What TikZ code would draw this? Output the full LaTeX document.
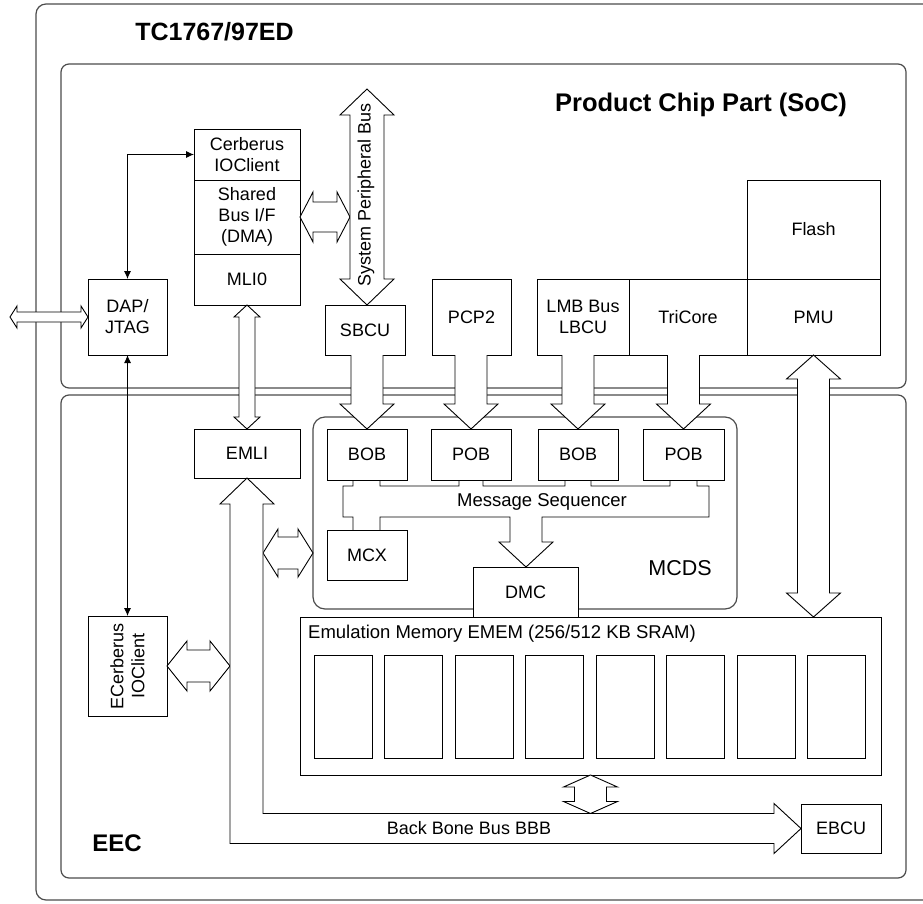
\documentclass[tikz,border=0pt]{standalone}
\usepackage{fontspec}
\setmainfont{Liberation Sans}
\usetikzlibrary{positioning,calc,arrows.meta}

\tikzset{
  blk/.style={draw, fill=white, line width=0.9pt, outer sep=0pt, inner sep=0pt, align=center, font=\fontsize{18}{21}\selectfont},
  frame/.style={draw=black!70, line width=1.2pt},
  bus/.style={draw, fill=white, line width=0.9pt},
  lbl/.style={inner sep=0pt, align=center, font=\fontsize{18}{21}\selectfont},
}

% hollow bus arrows: #1,#2 ends, #3 half shaft, #4 half head, #5 head length
\newcommand{\busv}[5]{\draw[bus] let \p1=(#1), \p2=(#2) in (\x1,\y1) -- (\x1+#4pt,\y1-#5pt) -- (\x1+#3pt,\y1-#5pt) -- (\x1+#3pt,\y2+#5pt) -- (\x1+#4pt,\y2+#5pt) -- (\x1,\y2) -- (\x1-#4pt,\y2+#5pt) -- (\x1-#3pt,\y2+#5pt) -- (\x1-#3pt,\y1-#5pt) -- (\x1-#4pt,\y1-#5pt) -- cycle;}
\newcommand{\bush}[5]{\draw[bus] let \p1=(#1), \p2=(#2) in (\x1,\y1) -- (\x1+#5pt,\y1+#4pt) -- (\x1+#5pt,\y1+#3pt) -- (\x2-#5pt,\y1+#3pt) -- (\x2-#5pt,\y1+#4pt) -- (\x2,\y1) -- (\x2-#5pt,\y1-#4pt) -- (\x2-#5pt,\y1-#3pt) -- (\x1+#5pt,\y1-#3pt) -- (\x1+#5pt,\y1-#4pt) -- cycle;}
\newcommand{\busdown}[5]{\draw[bus] let \p1=(#1), \p2=(#2) in (\x2-#3pt,\y1) -- (\x2-#3pt,\y2+#5pt) -- (\x2-#4pt,\y2+#5pt) -- (\x2,\y2) -- (\x2+#4pt,\y2+#5pt) -- (\x2+#3pt,\y2+#5pt) -- (\x2+#3pt,\y1);}

\begin{document}
\begin{tikzpicture}[x=1pt, y=-1pt, >={Latex[length=8pt,width=7pt]}]
\useasboundingbox (0,0) rectangle (923,904);
\clip (0,0) rectangle (923,904);
\draw[frame, rounded corners=10pt] (36,4) rectangle (960,900);
\draw[frame, rounded corners=8pt] (61,64) rectangle (906,388);
\draw[frame, rounded corners=8pt] (61,395) rectangle (906,878);
\node[name=title, font=\fontsize{25}{30}\selectfont\bfseries] at (214.5,32) {TC1767/97ED};
\node[name=soc_lbl, font=\fontsize{25.5}{30}\selectfont\bfseries] at (701,105) {Product Chip Part (SoC)};
\node[name=eec_lbl, font=\fontsize{24}{28}\selectfont\bfseries] at (117,843) {EEC};

\node[blk, name=cerb_io, minimum width=106pt, minimum height=51pt] at (247,154.5) {Cerberus\\IOClient};
\node[blk, name=cerb_bus, below=0pt of cerb_io, minimum width=106pt, minimum height=74pt] {Shared\\Bus I/F\\(DMA)};
\node[blk, name=cerb_mli, below=0pt of cerb_bus, minimum width=106pt, minimum height=51pt] {MLI0};
\node[blk, name=dap, minimum width=79pt, minimum height=76pt] at (127.5,317) {DAP/\\JTAG};
\node[blk, name=sbcu, minimum width=80pt, minimum height=50pt] at (365,330) {SBCU};
\node[blk, name=pcp_2, minimum width=79pt, minimum height=76pt] at (471.5,317) {PCP2};
\node[blk, name=lbcu, minimum width=92pt, minimum height=76pt] at (583,317) {LMB Bus\\LBCU};
\node[blk, name=tricore, right=0pt of lbcu, minimum width=118pt, minimum height=76pt] {TriCore};
\node[blk, name=pmu, right=0pt of tricore, minimum width=133pt, minimum height=76pt] {PMU};
\node[blk, name=flash, above=0pt of pmu, minimum width=133pt, minimum height=99pt] {Flash};

\node[blk, name=emli, minimum width=106pt, minimum height=49pt] at (247,453.5) {EMLI};
\node[frame, name=mcds, rounded corners=12pt, minimum width=424pt, minimum height=192pt, outer sep=0pt] at (525,513) {};
\node[lbl, name=mcds_lbl, font=\fontsize{21.5}{24}\selectfont] at (680,568) {MCDS};
\node[blk, name=bob_1, minimum width=80pt, minimum height=51pt] at (367,454.5) {BOB};
\node[blk, name=pob_1, minimum width=80pt, minimum height=51pt] at (471,454.5) {POB};
\node[blk, name=bob_2, minimum width=80pt, minimum height=51pt] at (578,454.5) {BOB};
\node[blk, name=pob_2, minimum width=81pt, minimum height=51pt] at (683.5,454.5) {POB};
\node[blk, name=mcx, minimum width=80pt, minimum height=50pt] at (367,555) {MCX};
\node[blk, name=dmc, minimum width=105pt, minimum height=50pt] at (525.5,592) {DMC};
\node[blk, name=emem, minimum width=581pt, minimum height=158pt] at (590.5,696) {};
\node[lbl, name=emem_lbl, anchor=west, font=\fontsize{18.5}{21}\selectfont] at (308,634) {Emulation Memory EMEM (256/512 KB SRAM)};
\foreach \i in {0,...,7}
  \draw[line width=0.9pt] (314+70.5*\i,655) rectangle ++(58,103);
\node[blk, name=ebcu, minimum width=80pt, minimum height=49pt] at (841,828.5) {EBCU};
\node[blk, name=ecerb, minimum width=79pt, minimum height=100pt] at (127.5,666) {};
\node[lbl, name=ecerb_lbl, rotate=90] at (ecerb) {ECerberus\\IOClient};

\coordinate (ext) at (10,317);
\coordinate (spb_top) at (367,89);
\coordinate (spb_w) at (350,217);
\coordinate (bbb_w) at (230,666);
\coordinate (bbb_e) at (263,553);
\coordinate (bbb_n) at (590.5,813.5);
\coordinate (mcds_w) at (313,553);

\draw[<->, line width=0.9pt] (dap.north) |- (cerb_io.west);
\draw[line width=0.9pt] (dap.south) edge[<->] (ecerb.north);
\bush{ext}{dap.west}{5}{11}{7}
\bush{cerb_bus.east}{spb_w}{15}{25}{13}
\busv{spb_top}{sbcu.north}{17}{27}{26}
\node[lbl, name=spb_lbl, rotate=90] at (366,195) {System Peripheral Bus};
\busv{cerb_mli.south}{emli.north}{8}{13}{12}
\busdown{sbcu.south}{bob_1.north}{16}{27}{25}
\busdown{pcp_2.south}{pob_1.north}{16}{27}{25}
\busdown{lbcu.south}{bob_2.north}{16}{27}{25}
\busdown{tricore.south}{pob_2.north}{16}{27}{25}
\busv{pmu.south}{pmu.south |- emem.north}{16}{27}{24}
\busv{emem.south}{bbb_n}{16}{27}{12}
\bush{ecerb.east}{bbb_w}{16}{25}{20}
\bush{bbb_e}{mcds_w}{16}{24}{15}
\draw[bus] let \p1=(emli.south), \p2=(ebcu.west) in (\x1,\y1) -- (\x1+27pt,\y1-26pt) -- (\x1+16pt,\y1-26pt) -- (\x1+16pt,\y2+15pt) -- (\x2-27pt,\y2+15pt) -- (\x2-27pt,\y2+25pt) -- (\x2,\y2) -- (\x2-27pt,\y2-25pt) -- (\x2-27pt,\y2-15pt) -- (\x1-17pt,\y2-15pt) -- (\x1-17pt,\y1-26pt) -- (\x1-27pt,\y1-26pt) -- cycle;
\node[lbl, name=bbb_lbl] at (469,828) {Back Bone Bus BBB};

\draw[line width=0.9pt] (353,480) -- (353,486) -- (343,486) -- (343,517) -- (353,517) -- (353,530)
  (380,530) -- (380,517) -- (510,517) -- (510,542) -- (499,542) -- (526,567) -- (553,542) -- (542,542) -- (542,517) -- (709,517) -- (709,486) -- (697,486) -- (697,480)
  (670,480) -- (670,486) -- (591,486) -- (591,480)
  (565,480) -- (565,486) -- (483,486) -- (483,480)
  (459,480) -- (459,486) -- (380,486) -- (380,480);
\node[lbl, name=msq_lbl, font=\fontsize{18.5}{21}\selectfont] at (542,502) {Message Sequencer};
\end{tikzpicture}
\end{document}
